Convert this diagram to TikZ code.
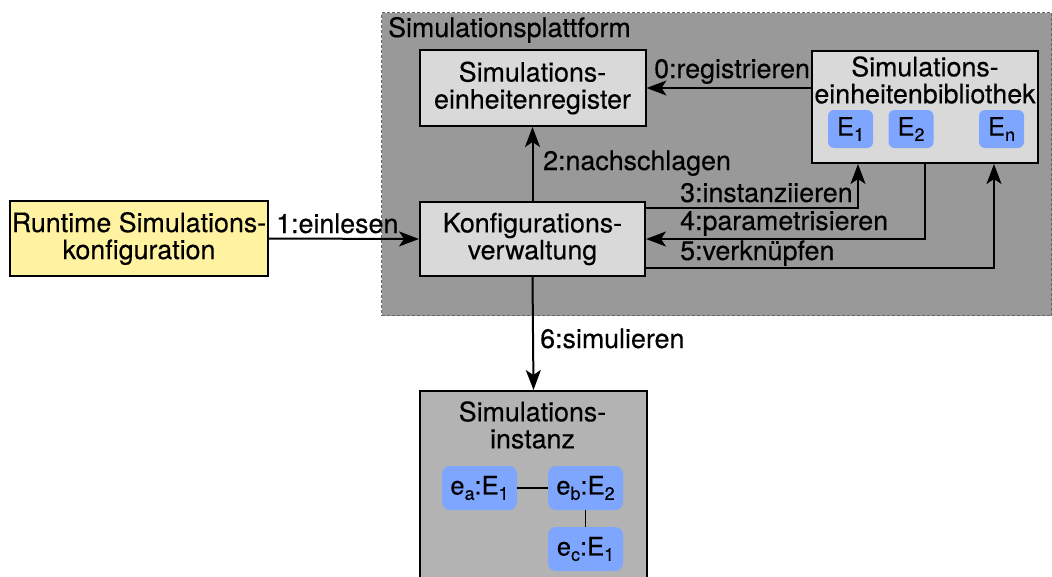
\documentclass[tikz,border=0pt]{standalone}
\usepackage{fontspec}
\setmainfont{TeX Gyre Heros}[FakeBold=0.3]
\usetikzlibrary{arrows.meta}
\definecolor{platgray}{HTML}{999999}
\definecolor{boxgray}{HTML}{D9D9D9}
\definecolor{instgray}{HTML}{B3B3B3}
\definecolor{chipblue}{HTML}{7EA6FF}
\definecolor{cfgyellow}{HTML}{FFF2A0}
\newcommand\lblfont{\fontsize{26.8}{27}\selectfont}
\newcommand\ix[1]{\raisebox{-0.4ex}{\fontsize{18}{18}\selectfont #1}}
\begin{document}
\begin{tikzpicture}[x=1pt,y=-1pt,
  every node/.style={font=\lblfont, inner sep=0pt},
  box/.style={draw=black, line width=2pt, fill=boxgray, align=center},
  chip/.style={fill=chipblue, rounded corners=6pt, font=\fontsize{25.5}{25.5}\selectfont},
  arr/.style={line width=2pt, -{Stealth[length=20pt,width=15pt,inset=5pt]}},
  link/.style={line width=1.5pt},
  lab/.style={anchor=base west}]
\useasboundingbox (0,0) rectangle (1052,576);

% platform background
\node[fill=platgray, draw=black!60, line width=1pt, dash pattern=on 3pt off 2pt,
      minimum width=670pt, minimum height=303pt, anchor=north west] (plat) at (381,12) {};
\node[lab] (plattitle) at (388,37) {Simulationsplattform};

% main boxes
\node[box, minimum width=226pt, minimum height=76pt] (reg) at (532.5,88) {Simulations-\\einheitenregister};
\node[box, minimum width=226pt, minimum height=112pt] (lib) at (925,107) {};
\node[align=center] (libtitle) at (925,80) {Simulations-\\einheitenbibliothek};
\node[chip, minimum width=45pt, minimum height=38pt] (e1) at (850.5,129) {E\ix{1}};
\node[chip, minimum width=45pt, minimum height=38pt] (e2) at (911,129) {E\ix{2}};
\node[chip, minimum width=45pt, minimum height=38pt] (en) at (1001.5,129) {E\ix{n}};
\node[box, minimum width=225pt, minimum height=74pt] (kon) at (532.5,239) {Konfigurations-\\verwaltung};
\node[box, fill=cfgyellow, minimum width=258pt, minimum height=75pt] (run) at (139,238.5) {Runtime Simulations-\\konfiguration};

% simulation instance
\node[draw=black, line width=2pt, fill=instgray, minimum width=227pt, minimum height=230pt, anchor=north west] (ins) at (419,390) {};
\node[align=center] (institle) at (532.5,425) {Simulations-\\instanz};
\node[chip, rounded corners=8pt, minimum width=75pt, minimum height=44pt] (ea) at (479.5,488) {e\ix{a}:E\ix{1}};
\node[chip, rounded corners=8pt, minimum width=75pt, minimum height=44pt] (eb) at (585.5,488) {e\ix{b}:E\ix{2}};
\node[chip, rounded corners=8pt, minimum width=75pt, minimum height=44pt] (ec) at (585.5,549) {e\ix{c}:E\ix{1}};
\draw[link] (ea) -- (eb);
\draw[link] (eb) -- (ec);

% connectors
\draw[arr] (lib.west |- reg.east) -- (reg.east);
\draw[arr] (run.east) -- (kon.west);
\draw[arr] (kon.north) -- (reg.south);
\draw[arr] ([yshift=31pt]kon.east) -| ([xshift=-67pt]lib.south);
\draw[arr] (lib.south) |- (kon.east);
\draw[arr] ([yshift=-29pt]kon.east) -| ([xshift=69pt]lib.south);
\draw[arr] (kon.south) -- (ins.north);

% connector labels
\node[lab] (l0) at (654,78) {0:registrieren};
\node[lab] (l1) at (276,233) {1:einlesen};
\node[lab] (l2) at (543,170) {2:nachschlagen};
\node[lab] (l3) at (680,202) {3:instanziieren};
\node[lab] (l4) at (680,230) {4:parametrisieren};
\node[lab] (l5) at (680,260) {5:verknüpfen};
\node[lab] (l6) at (540,348) {6:simulieren};
\end{tikzpicture}
\end{document}
